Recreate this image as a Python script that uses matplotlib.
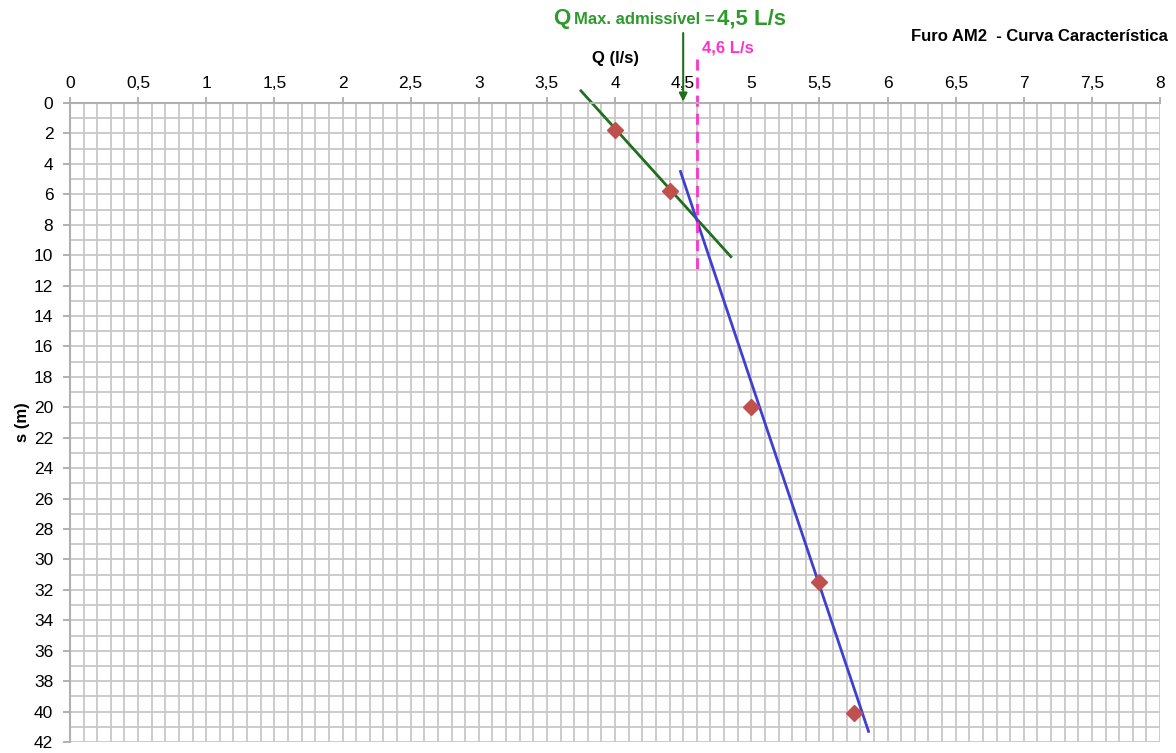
'''Furo AM2 - characteristic curve.'''

import matplotlib
matplotlib.use('Agg')
import matplotlib.pyplot as plt
from matplotlib.ticker import MultipleLocator, FuncFormatter

plt.rcParams['font.family'] = ['Liberation Sans', 'DejaVu Sans']

# measured points
q_points = [4.0, 4.4, 5.0, 5.5, 5.75]
s_points = [1.8, 5.8, 20.0, 31.5, 40.1]

# fitted lines (end points)
green_q = [3.75, 4.85]
green_s = [-0.8, 10.1]
blue_q = [4.48, 5.86]
blue_s = [4.5, 41.3]

# limits
q_crit = 4.6
q_max = 4.5

fig = plt.figure(figsize=(11.76, 7.53), dpi=100)
ax = fig.add_axes([0.0595, 0.0146, 0.927, 0.8486])

ax.set_xlim(0, 8)
ax.set_ylim(42, 0)

# grid
ax.xaxis.set_major_locator(MultipleLocator(0.5))
ax.xaxis.set_minor_locator(MultipleLocator(0.1))
ax.yaxis.set_major_locator(MultipleLocator(2))
ax.yaxis.set_minor_locator(MultipleLocator(1))
ax.grid(which='both', color='#c8c8c8', linewidth=1.3)
ax.set_axisbelow(True)

fmt = FuncFormatter(lambda v, p: f'{v:g}'.replace('.', ','))
ax.xaxis.set_major_formatter(fmt)
ax.yaxis.set_major_formatter(fmt)
ax.xaxis.tick_top()
ax.tick_params(which='major', labelsize=12.5, length=5, color='#aaaaaa', width=1.3)
ax.tick_params(which='minor', length=0)
ax.tick_params(axis='y', which='major', pad=7)
ax.tick_params(axis='x', which='major', length=4, pad=5)

for side in ('right', 'bottom'):
    ax.spines[side].set_visible(False)
for side in ('left', 'top'):
    ax.spines[side].set_color('#b0b0b0')
    ax.spines[side].set_linewidth(1.5)

# lines and points
ax.plot(green_q, green_s, color='#1f6f1f', linewidth=2, clip_on=False)
ax.plot(blue_q, blue_s, color='#4040d0', linewidth=2, clip_on=False)
ax.plot(q_points, s_points, linestyle='none', marker='D', markersize=8,
        color='#c0504d', zorder=3)
ax.plot([q_crit, q_crit], [-2.9, 11.3], color='#ff33cc', linewidth=2,
        linestyle=(0, (4, 2.5)), clip_on=False)

# labels
ax.set_ylabel('s (m)', fontsize=12, fontweight='bold', labelpad=3)
ax.text(4.0, -2.6, 'Q (l/s)', fontsize=12, fontweight='bold', ha='center')
ax.text(4.6 + 0.04, -3.3, '4,6 L/s', fontsize=12, fontweight='bold',
        color='#ff33cc', ha='left')
ax.annotate('', xy=(q_max, -0.1), xytext=(q_max, -4.6),
            annotation_clip=False,
            arrowprops=dict(arrowstyle='-|>', color='#1f6f1f', lw=1.5,
                            mutation_scale=12, shrinkA=0, shrinkB=0))
fig.text(0.47, 0.968, 'Q', fontsize=16, fontweight='bold', color='#2e9a2e',
         ha='left', va='baseline')
fig.text(0.4885, 0.968, 'Max. admissível = ', fontsize=12, fontweight='bold',
         color='#2e9a2e', ha='left', va='baseline')
fig.text(0.6095, 0.968, '4,5 L/s', fontsize=16, fontweight='bold',
         color='#2e9a2e', ha='left', va='baseline')
fig.text(0.993, 0.945, 'Furo AM2  - Curva Característica', fontsize=12,
         fontweight='bold', ha='right', va='baseline')

fig.savefig('out.png', dpi=100)
